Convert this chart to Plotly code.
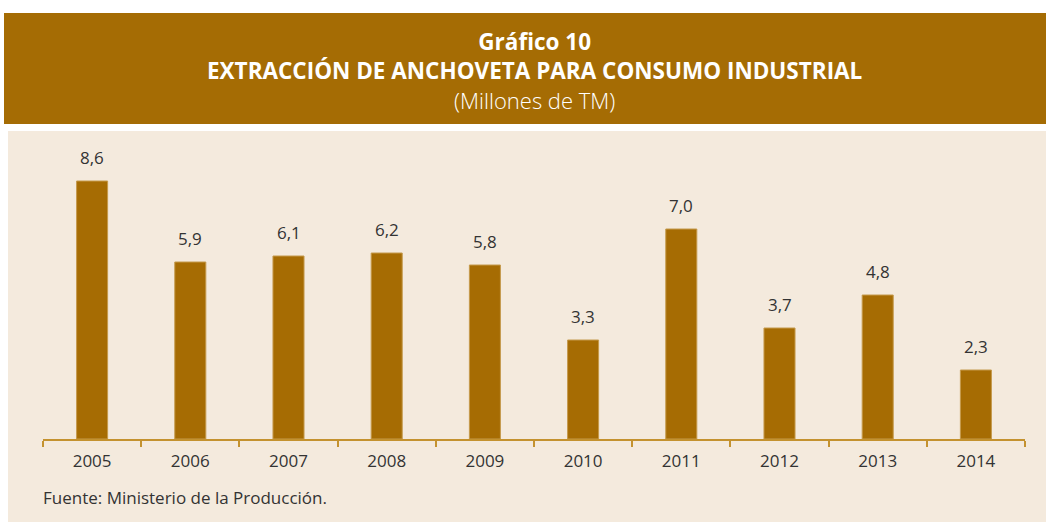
import plotly.graph_objects as go

years = ["2005", "2006", "2007", "2008", "2009", "2010", "2011", "2012", "2013", "2014"]
values = [8.6, 5.9, 6.1, 6.2, 5.8, 3.3, 7.0, 3.7, 4.8, 2.3]
labels = [f"{v:.1f}".replace(".", ",") for v in values]

title1 = "Gráfico 10"
title2 = "EXTRACCIÓN DE ANCHOVETA PARA CONSUMO INDUSTRIAL"
title3 = "(Millones de TM)"
source = "Fuente: Ministerio de la Producción."

W, H = 1046, 522
BAR = "#A66C03"
BANNER = "#A56C04"
BEIGE = "#F4EADD"
AXIS = "#C4922F"
TXT = "#333333"
FONT = "Open Sans"

def px_x(p):
    return p / W

def px_y(p):
    return (H - p) / H

fig = go.Figure()
fig.add_trace(go.Bar(
    x=years, y=values,
    marker=dict(color=BAR, line=dict(color="#C59A4C", width=1)),
    hoverinfo="skip",
))

annotations = []
for i, (v, lab) in enumerate(zip(values, labels)):
    annotations.append(dict(
        x=i, y=v, xref="x", yref="y", text=lab, showarrow=False,
        yanchor="bottom", yshift=10,
        font=dict(family=FONT, size=17, color=TXT),
    ))

title_html = (f"<b>{title1}</b><br><b>{title2}</b><br>"
              f"<span style='font-size:22px;font-weight:300'>{title3}</span>")
annotations += [
    dict(x=px_x(534), y=px_y(70), xref="paper", yref="paper", text=title_html,
         showarrow=False, yanchor="middle", align="center",
         font=dict(family=FONT, size=22.5, color="white")),
    dict(x=px_x(41), y=px_y(497), xref="paper", yref="paper", text=source,
         showarrow=False, xanchor="left", yanchor="middle",
         font=dict(family=FONT, size=17, color=TXT)),
]

shapes = [
    dict(type="rect", xref="paper", yref="paper", x0=px_x(4), x1=1.0,
         y0=px_y(124), y1=px_y(13), fillcolor=BANNER, line=dict(width=0), layer="below"),
    dict(type="rect", xref="paper", yref="paper", x0=px_x(8), x1=1.0,
         y0=0, y1=px_y(131), fillcolor=BEIGE, line=dict(width=0), layer="below"),
]

fig.update_layout(
    width=W, height=H,
    margin=dict(l=0, r=0, t=0, b=0),
    paper_bgcolor="white",
    plot_bgcolor="rgba(0,0,0,0)",
    showlegend=False,
    bargap=0.684,
    annotations=annotations,
    shapes=shapes,
    xaxis=dict(
        type="category",
        domain=[px_x(43), px_x(1025)],
        range=[-0.5, len(years) - 0.5],
        showline=True, linecolor=AXIS, linewidth=2,
        ticks="outside", tickson="boundaries", ticklen=6, tickcolor=AXIS, tickwidth=2,
        tickfont=dict(family=FONT, size=17, color=TXT),
        showgrid=False, zeroline=False, ticklabelstandoff=6, tickangle=0,
    ),
    yaxis=dict(
        domain=[px_y(439), px_y(140)],
        range=[0, 299 / 30], visible=False, fixedrange=True,
    ),
)

fig.write_html("out.html", config={"displayModeBar": False},
               post_script="document.body.style.margin='0';document.body.style.overflow='hidden';")
